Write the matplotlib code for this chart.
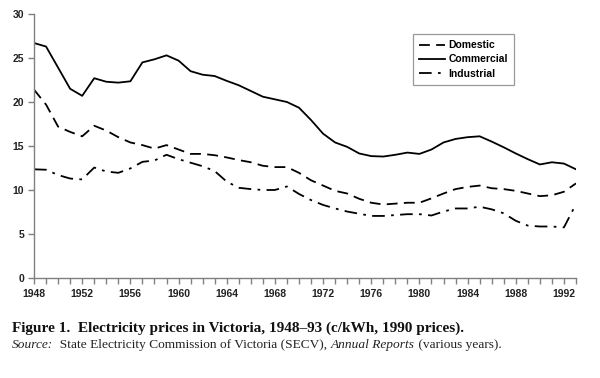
import matplotlib
matplotlib.use("Agg")
import matplotlib.pyplot as plt
import numpy as np

years = list(range(1948, 1994))
commercial = [26.7, 26.3, 23.9, 21.5, 20.7, 22.7, 22.3, 22.2, 22.35, 24.5,
              24.85, 25.3, 24.7, 23.5, 23.1, 22.95, 22.4, 21.9, 21.25, 20.6,
              20.3, 20.0, 19.35, 17.95, 16.4, 15.4, 14.9, 14.15, 13.85, 13.8,
              14.0, 14.25, 14.1, 14.6, 15.4, 15.8, 16.0, 16.1, 15.5, 14.85,
              14.15, 13.5, 12.9, 13.15, 13.0, 12.35]
domestic = [21.4, 19.7, 17.2, 16.6, 16.1, 17.3, 16.75, 16.0, 15.4, 15.1,
            14.7, 15.1, 14.6, 14.1, 14.1, 13.95, 13.7, 13.4, 13.15, 12.75,
            12.6, 12.6, 11.95, 11.1, 10.5, 9.9, 9.6, 9.0, 8.55, 8.35,
            8.45, 8.55, 8.55, 9.05, 9.6, 10.1, 10.35, 10.5, 10.2, 10.1,
            9.9, 9.6, 9.3, 9.4, 9.8, 10.75]
industrial = [12.35, 12.3, 11.7, 11.3, 11.2, 12.55, 12.1, 11.95, 12.45, 13.2,
              13.35, 14.0, 13.5, 13.1, 12.7, 12.15, 10.95, 10.25, 10.1, 10.0,
              10.0, 10.4, 9.55, 8.85, 8.3, 7.9, 7.55, 7.3, 7.05, 7.05,
              7.15, 7.25, 7.25, 7.1, 7.55, 7.9, 7.9, 8.1, 7.8, 7.35,
              6.5, 5.95, 5.85, 5.85, 5.75, 8.4]
yticks = [0, 5, 10, 15, 20, 25, 30]
xticks = list(range(1948, 1994, 4))

fig = plt.figure(figsize=(6, 3.78), dpi=100)
ax = fig.add_axes([0.0567, 0.2646, 0.9033, 0.6984])

lw = 1.3
ax.plot(years, domestic, color="black", lw=lw, linestyle=(0, (6, 3.5)), label="Domestic")
ax.plot(years, commercial, color="black", lw=lw, linestyle="-", label="Commercial")
ax.plot(years, industrial, color="black", lw=lw, linestyle=(0, (7, 3.5, 1.5, 3.5)), label="Industrial")

ax.set_xlim(1948, 1993)
ax.set_ylim(0, 30)
ax.set_yticks(yticks)
ax.set_xticks(xticks)
ax.set_xticks(years, minor=True)
for s in ["top", "right"]:
    ax.spines[s].set_visible(False)
for s in ["left", "bottom"]:
    ax.spines[s].set_color("#808080")
    ax.spines[s].set_linewidth(1.0)
ax.tick_params(axis="both", which="both", direction="out", color="#808080", width=1.0)
ax.tick_params(axis="y", length=4, pad=3)
ax.tick_params(axis="x", which="major", length=4, pad=4)
ax.tick_params(axis="x", which="minor", length=4)
for lab in ax.get_xticklabels() + ax.get_yticklabels():
    lab.set_fontfamily("Liberation Sans")
    lab.set_fontweight("bold")
    lab.set_fontsize(7.5)
    lab.set_color("#222222")

leg = ax.legend(loc="upper left", bbox_to_anchor=(0.699, 0.924), borderaxespad=0,
                frameon=True, fancybox=False, edgecolor="#808080", handlelength=2.5,
                handletextpad=0.3, labelspacing=0.4, borderpad=0.6,
                prop={"family": "Liberation Sans", "weight": "bold", "size": 7.5})
leg.get_frame().set_linewidth(0.9)

fig.text(0.02, 0.1217, "Figure 1.  Electricity prices in Victoria, 1948\u201393 (c/kWh, 1990 prices).",
         family="Liberation Serif", weight="bold", fontsize=11, color="#111111")
fs = 9.6
t1 = fig.text(0.02, 0.0794, "Source:", family="Liberation Serif", style="italic",
              fontsize=fs, color="#222222")
t2 = ax.annotate("  State Electricity Commission of Victoria (SECV), ", xy=(1, 0), xycoords=t1,
                 va="bottom", ha="left", family="Liberation Serif", fontsize=fs, color="#222222",
                 annotation_clip=False)
t3 = ax.annotate("Annual Reports", xy=(1, 0), xycoords=t2, va="bottom", ha="left",
                 family="Liberation Serif", style="italic", fontsize=fs, color="#222222",
                 annotation_clip=False)
t4 = ax.annotate(" (various years).", xy=(1, 0), xycoords=t3, va="bottom", ha="left",
                 family="Liberation Serif", fontsize=fs, color="#222222",
                 annotation_clip=False)

fig.savefig("out.png", dpi=100)
